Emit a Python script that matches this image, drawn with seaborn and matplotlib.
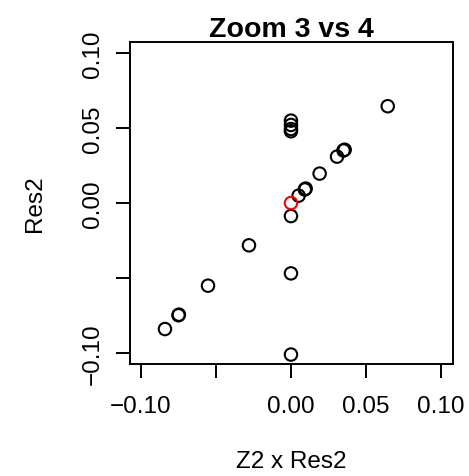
import matplotlib
matplotlib.use("Agg")
import matplotlib.pyplot as plt
import seaborn as sns
import pandas as pd

x_vals = [0.0645, 0.0, 0.0, 0.0, 0.0, 0.0358, 0.0350, 0.0307, 0.0191, 0.0098, 0.0092,
          0.0051, 0.0, -0.028, 0.0, -0.0553, -0.0747, -0.0750, -0.084, 0.0, 0.0]
y_vals = [0.0645, 0.0549, 0.0520, 0.0493, 0.0478, 0.0355, 0.0350, 0.0309, 0.0196, 0.0096, 0.0090,
          0.0049, -0.0087, -0.0282, -0.0469, -0.0551, -0.0744, -0.0748, -0.084, -0.101, 0.0]
groups = ["other"] * 20 + ["focus"]

x_ticks = [-0.10, -0.05, 0.00, 0.05, 0.10]
x_tick_labels = ["\u22120.10", "", "0.00", "0.05", "0.10"]
y_ticks = [-0.10, -0.05, 0.00, 0.05, 0.10]
y_tick_labels = ["\u22120.10", "", "0.00", "0.05", "0.10"]

df = pd.DataFrame({"x": x_vals, "y": y_vals, "g": groups})

sns.set_style("white")
plt.rcParams["font.family"] = ["Liberation Sans", "DejaVu Sans"]

fig = plt.figure(figsize=(4.69, 4.77), dpi=100)
ax = fig.add_axes([130 / 469, 1 - 365 / 477, 323 / 469, 322 / 477])

sns.scatterplot(data=df, x="x", y="y", hue="g", palette={"other": "black", "focus": "red"},
                marker="o", s=80, linewidth=1.5, legend=False, ax=ax)
coll = ax.collections[0]
coll.set_edgecolor([(1, 0, 0, 1) if g == "focus" else (0, 0, 0, 1) for g in groups])
coll.set_facecolor("none")

ax.set_xlim(-0.1073, 0.108)
ax.set_ylim(-0.1073, 0.1073)
ax.set_xticks(x_ticks)
ax.set_xticklabels(x_tick_labels)
ax.set_yticks(y_ticks)
ax.set_yticklabels(y_tick_labels, rotation=90, va="center")

for s in ax.spines.values():
    s.set_visible(True)
    s.set_linewidth(1.4)
    s.set_color("black")
ax.tick_params(axis="both", direction="out", length=10, width=1.4, color="black",
               labelsize=17.5, labelcolor="black")
ax.tick_params(axis="x", pad=12)
ax.tick_params(axis="y", pad=9)
ax.xaxis.set_ticks_position("bottom")
ax.yaxis.set_ticks_position("left")

ax.set_xlabel("Z2 x Res2", fontsize=17.5, color="black")
ax.set_ylabel("Res2", fontsize=17.5, color="black")
ax.xaxis.set_label_coords(0.5, -0.301)
ax.xaxis.label.set_va("center")
ax.yaxis.set_label_coords(-0.294, 0.5)
ax.yaxis.label.set_va("center")
t = ax.set_title("Zoom 3 vs 4", fontsize=20.5, fontweight="bold", color="black")
t.set_position((0.5, 1.071))
t.set_va("center")

fig.savefig("out.png", dpi=100)
